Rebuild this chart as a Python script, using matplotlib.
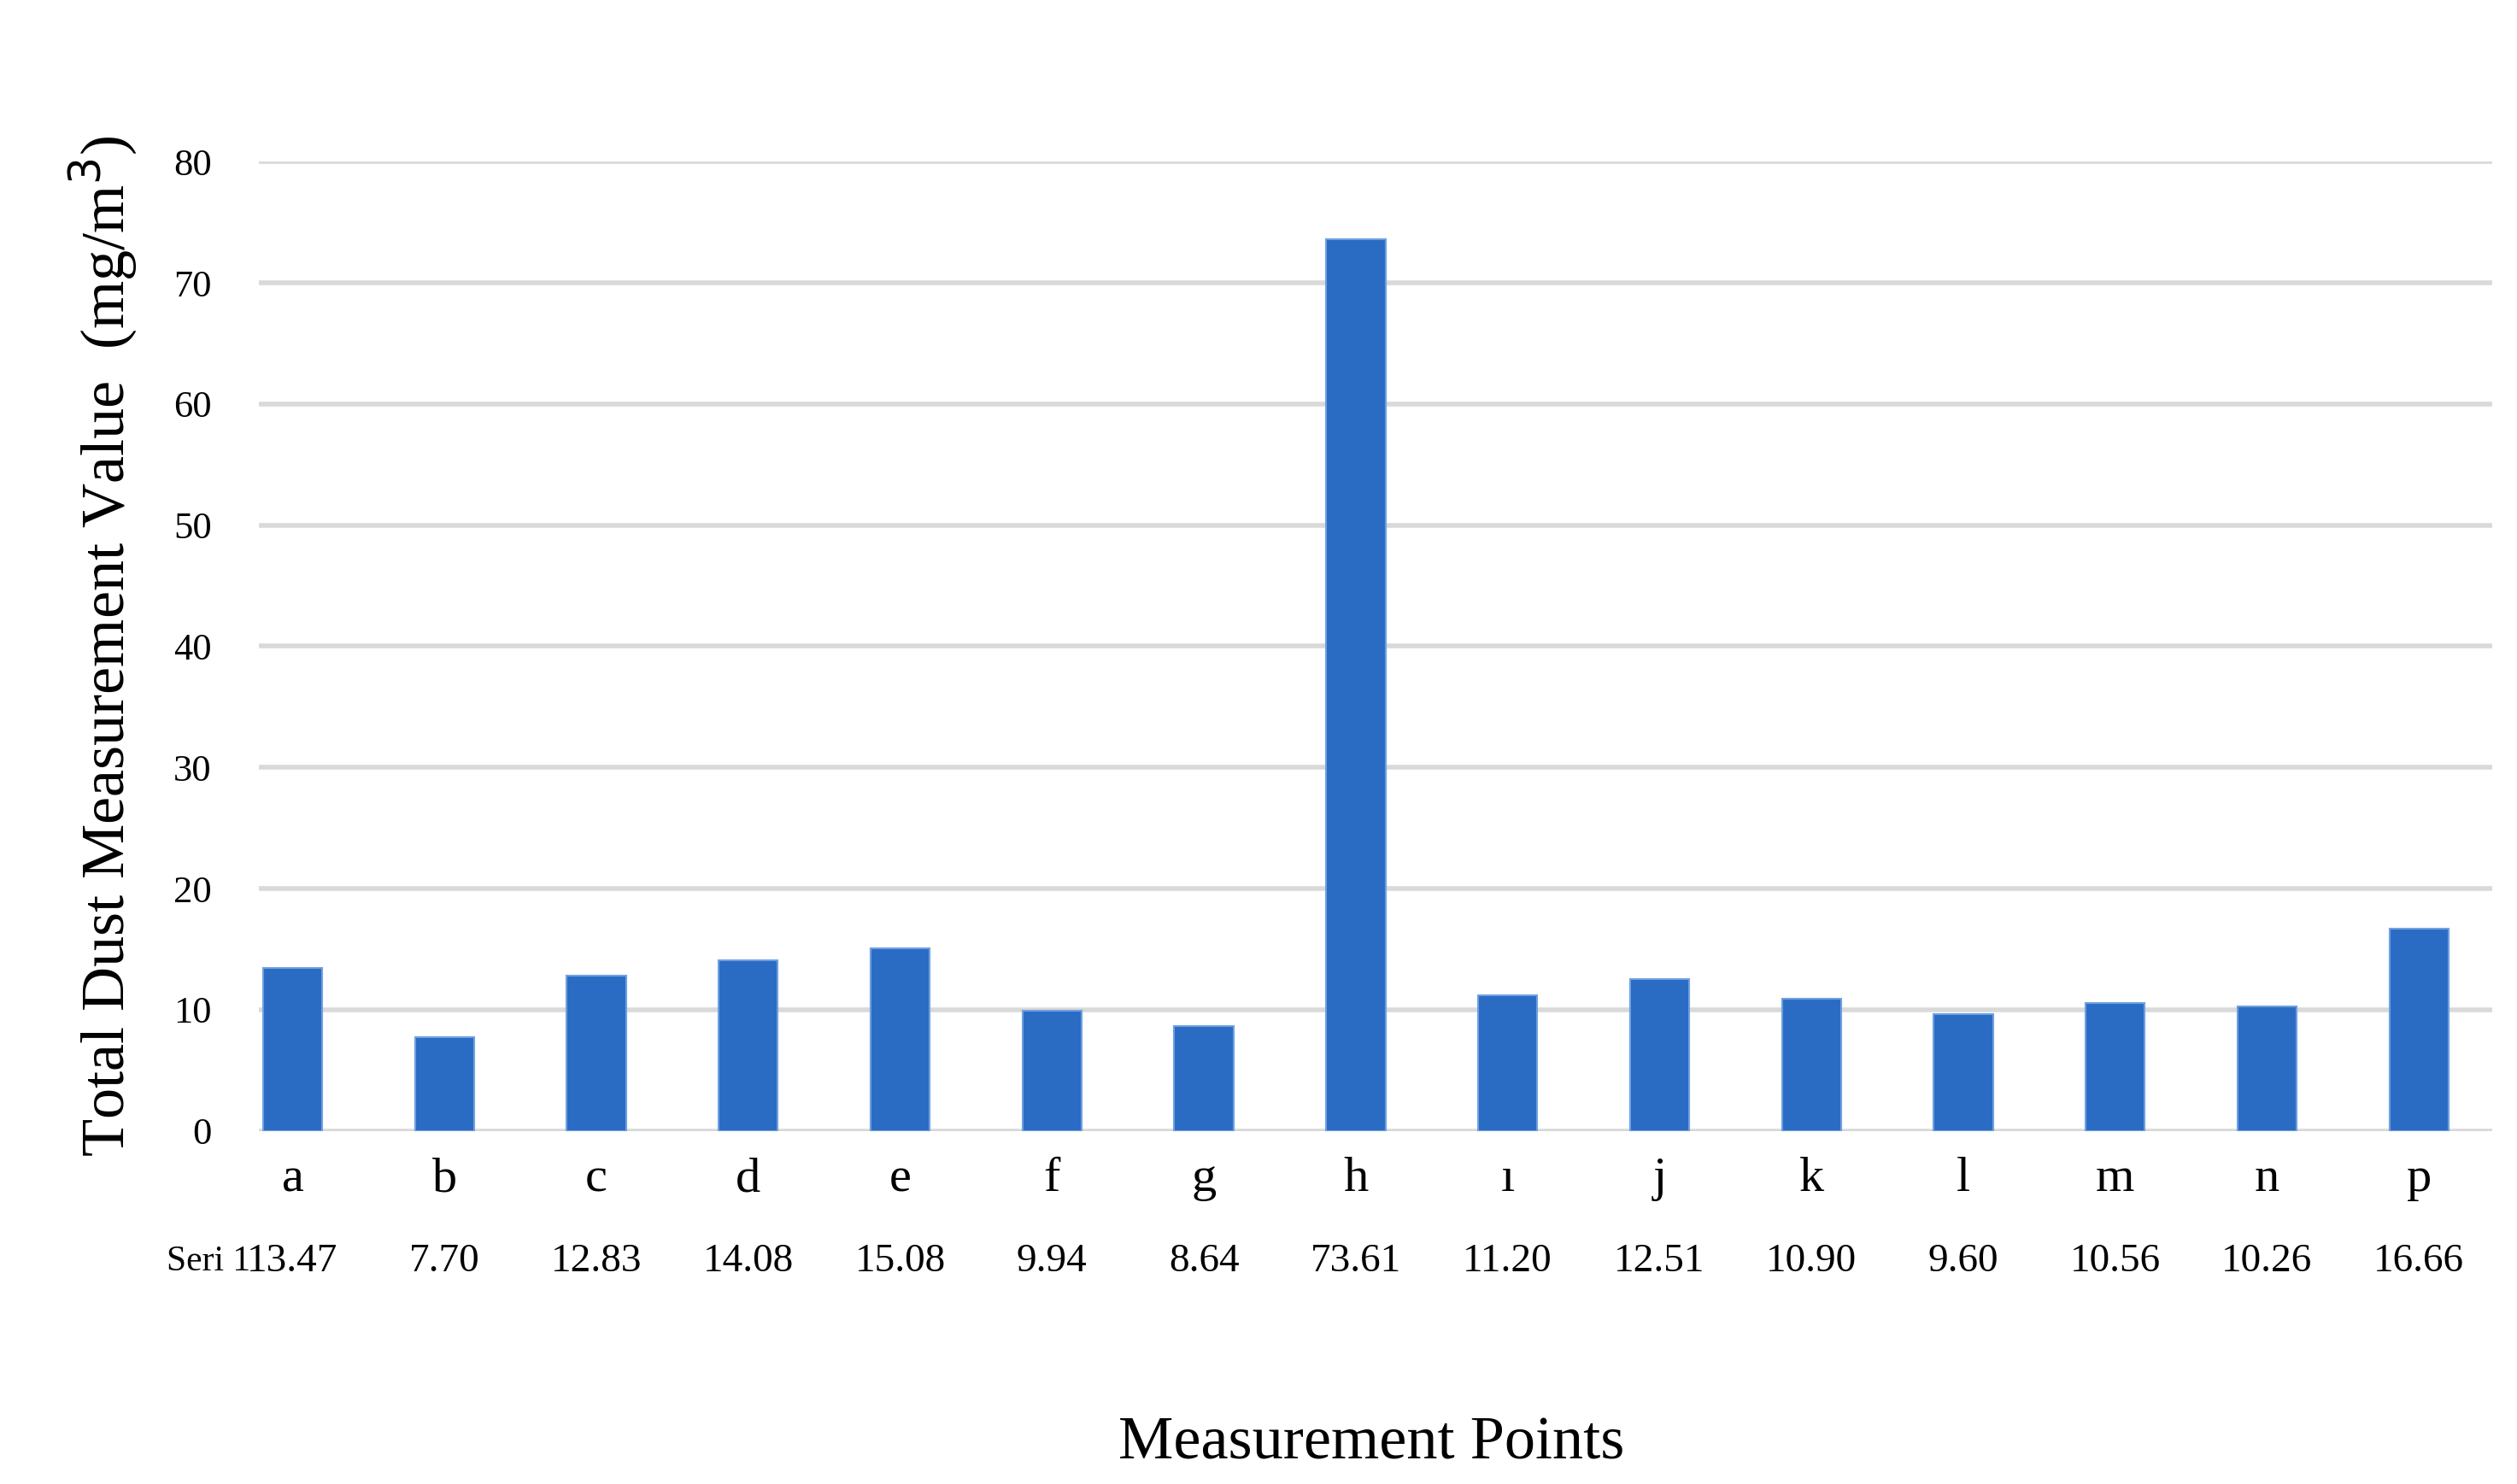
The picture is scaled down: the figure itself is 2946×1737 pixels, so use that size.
import matplotlib.pyplot as plt

plt.rcParams['font.family'] = ['Liberation Serif', 'DejaVu Serif']

points = ['a', 'b', 'c', 'd', 'e', 'f', 'g', 'h', 'ı', 'j', 'k', 'l', 'm', 'n', 'p']
values = [13.47, 7.70, 12.83, 14.08, 15.08, 9.94, 8.64, 73.61, 11.20, 12.51, 10.90, 9.60, 10.56, 10.26, 16.66]
yticks = [0, 10, 20, 30, 40, 50, 60, 70, 80]

fig = plt.figure(figsize=(29.46, 17.37), dpi=100)
ax = fig.add_axes([0.103, 0.238, 0.887, 0.653])

x = list(range(len(points)))
ax.bar(x, values, width=0.39, color='#2a6bc4', edgecolor='#6fa0e0', linewidth=1.5, zorder=3)

ax.set_ylim(0, 80)
ax.set_xlim(-0.22, len(points) - 0.52)
ax.set_yticks(yticks)
ax.set_yticklabels([str(v) for v in yticks], fontsize=32)
ax.tick_params(axis='y', length=0, pad=40)
ax.grid(axis='y', color='#d9d9d9', linewidth=4, zorder=0)
for s in ax.spines.values():
    s.set_visible(False)
ax.axhline(0, color='#d9d9d9', linewidth=3, zorder=1)

ax.set_xticks(x)
ax.set_xticklabels(points, fontsize=42)
ax.tick_params(axis='x', length=0, pad=22)

# data table row
for xi, v in zip(x, values):
    ax.text(xi, -10.8, '%.2f' % v, ha='center', va='center', fontsize=34,
            transform=ax.transData, clip_on=False)
ax.text(-0.28, -10.8, 'Seri 1', ha='right', va='center', fontsize=30, clip_on=False)

ax.set_ylabel('Total Dust Measurement Value  (mg/m$^3$)', fontsize=52, labelpad=28)
fig.text(0.545, 0.027, 'Measurement Points', ha='center', va='center', fontsize=52)

fig.savefig('out.png', dpi=100)
